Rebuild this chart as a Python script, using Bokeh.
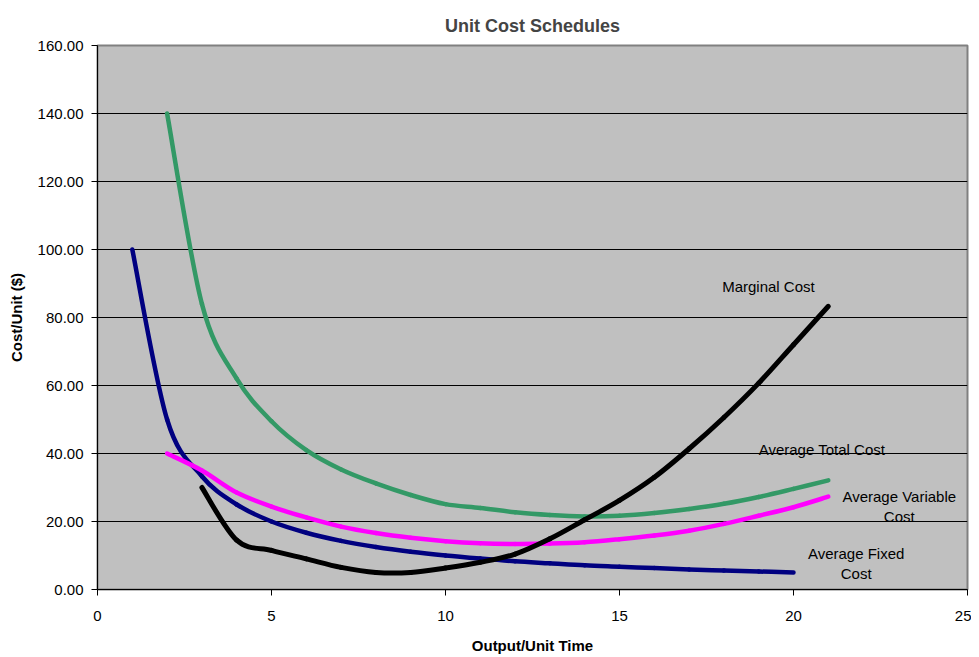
from bokeh.plotting import figure
from bokeh.embed import file_html
from bokeh.resources import INLINE
from bokeh.models import Label, FixedTicker, NumeralTickFormatter, Range1d

# ---- data ----
afc_x = list(range(1, 21))
afc_y = [100.0, 50.0, 33.3, 25.0, 20.0, 16.7, 14.3, 12.5, 11.1, 10.0,
         9.1, 8.3, 7.7, 7.1, 6.7, 6.3, 5.9, 5.6, 5.3, 5.0]

avc_x = list(range(2, 22))
avc_y = [40.0, 35.0, 28.5, 24.4, 21.2, 18.5, 16.6, 15.2, 14.2, 13.6,
         13.4, 13.5, 13.9, 14.8, 15.9, 17.3, 19.3, 21.7, 24.2, 27.3]

atc_x = list(range(2, 22))
atc_y = [140.0, 84.0, 62.0, 49.5, 41.0, 35.3, 31.2, 27.8, 25.1, 24.0,
         22.7, 21.9, 21.5, 21.7, 22.5, 23.7, 25.2, 27.2, 29.6, 32.1]

mc_x = list(range(3, 22))
mc_y = [30.0, 14.5, 11.5, 9.0, 6.5, 5.0, 5.0, 6.3, 8.0, 10.4,
        14.9, 20.5, 26.2, 33.0, 41.4, 50.6, 60.7, 72.0, 83.3]

x_ticks = [0, 5, 10, 15, 20, 25]
y_ticks = [0, 20, 40, 60, 80, 100, 120, 140, 160]

FONT = "Liberation Sans"

p = figure(width=971, height=657, output_backend="svg", toolbar_location=None,
           x_range=Range1d(0, 25), y_range=Range1d(0, 160),
           min_border_left=97, min_border_right=4, min_border_top=45, min_border_bottom=68)

p.title.text = "Unit Cost Schedules"
p.title.align = "center"
p.title.text_font = FONT
p.title.text_font_size = "18px"
p.title.text_font_style = "bold"
p.title.offset = 0
p.title.standoff = 20

p.background_fill_color = "#C0C0C0"
p.border_fill_color = "white"
p.outline_line_color = "#808080"
p.outline_line_width = 2

# grid
p.xgrid.grid_line_color = None
p.ygrid.grid_line_color = "#000000"
p.ygrid.grid_line_width = 1
p.ygrid.ticker = FixedTicker(ticks=y_ticks)

# axes
p.xaxis.ticker = FixedTicker(ticks=x_ticks)
p.yaxis.ticker = FixedTicker(ticks=y_ticks)
p.yaxis.formatter = NumeralTickFormatter(format="0.00")
for ax in (p.xaxis[0], p.yaxis[0]):
    ax.axis_line_color = "black"
    ax.axis_line_width = 1
    ax.major_tick_line_color = "black"
    ax.major_tick_out = 6
    ax.major_tick_in = 0
    ax.minor_tick_line_color = None
    ax.major_label_text_font = FONT
    ax.major_label_text_font_size = "15px"
    ax.major_label_text_color = "black"
    ax.axis_label_text_font = FONT
    ax.axis_label_text_font_size = "15px"
    ax.axis_label_text_font_style = "bold"
    ax.axis_label_text_color = "black"

p.xaxis.axis_label = "Output/Unit Time"
p.yaxis.axis_label = "Cost/Unit ($)"
p.xaxis.major_label_standoff = 15
p.xaxis.axis_label_standoff = 13
p.yaxis.major_label_standoff = 8
p.yaxis.axis_label_standoff = 10


# smoothed curves (spreadsheet-style smoothing: Bezier segments through the data points)
def smooth(xs, ys, color, width):
    n = len(xs)
    x0, y0, x1, y1, cx0, cy0, cx1, cy1 = [], [], [], [], [], [], [], []
    for i in range(n - 1):
        pa = max(i - 1, 0)
        pd = min(i + 2, n - 1)
        x0.append(xs[i]); y0.append(ys[i])
        x1.append(xs[i + 1]); y1.append(ys[i + 1])
        cx0.append(xs[i] + (xs[i + 1] - xs[pa]) / 6.0)
        cy0.append(ys[i] + (ys[i + 1] - ys[pa]) / 6.0)
        cx1.append(xs[i + 1] - (xs[pd] - xs[i]) / 6.0)
        cy1.append(ys[i + 1] - (ys[pd] - ys[i]) / 6.0)
    p.bezier(x0=x0, y0=y0, x1=x1, y1=y1, cx0=cx0, cy0=cy0, cx1=cx1, cy1=cy1,
             line_color=color, line_width=width, line_cap="round")


smooth(afc_x, afc_y, "#000080", 4.5)
smooth(atc_x, atc_y, "#339966", 4.5)
smooth(avc_x, avc_y, "#FF00FF", 4.5)
smooth(mc_x, mc_y, "#000000", 5)


# labels
def lab(x, y, t, align="left"):
    p.add_layout(Label(x=x, y=y, text=t, text_font=FONT, text_font_size="15px",
                       text_color="#000000", text_align=align, text_baseline="middle"))


lab(17.95, 89.0, "Marginal Cost")
lab(19.0, 41.2, "Average Total Cost")
lab(23.04, 27.4, "Average Variable", "center")
lab(23.04, 21.6, "Cost", "center")
lab(21.8, 10.7, "Average Fixed", "center")
lab(21.8, 4.8, "Cost", "center")

open("out.html", "w").write(file_html(p, INLINE))
